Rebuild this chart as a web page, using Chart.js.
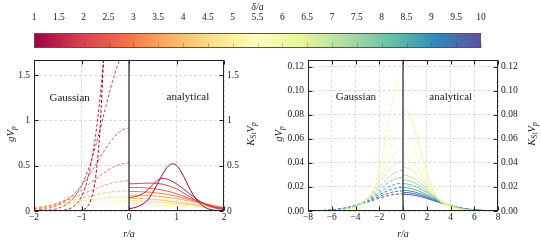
<!DOCTYPE html>
<html>
<head>
<meta charset="utf-8">
<script src="https://cdn.jsdelivr.net/npm/chart.js@4"></script>
<style>
  body { margin: 0; width: 541px; height: 244px; background: #fff; position: relative; overflow: hidden; }
  canvas { position: absolute; }
  .yt { position: absolute; transform: translate(-50%, -50%) rotate(-90deg); font: italic 10.5px "Liberation Serif", serif; color: #1a1a1a; white-space: nowrap; }
  .yt sub { font-size: 7.5px; vertical-align: -2px; }
  .yt .up { font-style: normal; }
</style>
</head>
<body>
<canvas id="cbar" width="541" height="50" style="left:0;top:0"></canvas>
<canvas id="left" width="270" height="194" style="left:0;top:50px"></canvas>
<canvas id="right" width="271" height="194" style="left:270px;top:50px"></canvas>
<div class="yt" style="left:11px;top:134px"><i>g</i><i>V</i><sub>p</sub></div>
<div class="yt" style="left:251px;top:134px"><i>K</i><sub class="up">St</sub><i>V</i><sub>p</sub></div>
<div class="yt" style="left:279px;top:134px"><i>g</i><i>V</i><sub>p</sub></div>
<div class="yt" style="left:532px;top:134px"><i>K</i><sub class="up">St</sub><i>V</i><sub>p</sub></div>
<script>
// delta/a of each curve
const DELTA_LEFT = [1, 1.5, 2, 2.5, 3, 3.5, 4, 4.5, 5, 5.5];
const DELTA_RIGHT = [5, 5.5, 6, 6.5, 7, 7.5, 8, 8.5, 9, 9.5, 10];

// |r|/a sample points (Gaussian half is drawn at -r)
const R_LEFT = [0, 0.1, 0.2, 0.3, 0.4, 0.5, 0.6, 0.7, 0.8, 0.9, 1, 1.1, 1.2, 1.3, 1.4, 1.5, 1.6, 1.7, 1.8, 1.9, 2];
const R_RIGHT = [0, 0.5, 1, 1.5, 2, 2.5, 3, 3.5, 4, 5, 6, 7, 8];

// g V_p, one row per delta, at R_LEFT
const GAUSS_LEFT = [
  [14.3, 13.3, 10.6, 7.35, 4.38, 2.25, 0.997, 0.382, 0.126, 0.0358, 0.0088, 0.0019, 0.0003, 0, 0, 0, 0, 0, 0, 0, 0],
  [4.24, 4.10, 3.72, 3.15, 2.50, 1.86, 1.30, 0.846, 0.517, 0.296, 0.158, 0.0794, 0.0373, 0.0164, 0.0067, 0.0026, 0.0009, 0.0003, 0.0001, 0, 0],
  [1.788, 1.755, 1.660, 1.513, 1.330, 1.126, 0.919, 0.722, 0.547, 0.400, 0.281, 0.191, 0.125, 0.0785, 0.0477, 0.0279, 0.0157, 0.0085, 0.0045, 0.0023, 0.0011],
  [0.915, 0.904, 0.873, 0.823, 0.757, 0.681, 0.598, 0.513, 0.429, 0.351, 0.280, 0.219, 0.167, 0.124, 0.0901, 0.0638, 0.0443, 0.0299, 0.0198, 0.0128, 0.0081],
  [0.530, 0.525, 0.513, 0.492, 0.464, 0.431, 0.394, 0.354, 0.313, 0.272, 0.233, 0.196, 0.162, 0.132, 0.106, 0.0834, 0.0646, 0.0493, 0.0369, 0.0273, 0.0198],
  [0.334, 0.332, 0.326, 0.316, 0.303, 0.287, 0.268, 0.248, 0.227, 0.205, 0.182, 0.161, 0.140, 0.120, 0.102, 0.0857, 0.0711, 0.0582, 0.0472, 0.0377, 0.0298],
  [0.223, 0.222, 0.219, 0.214, 0.208, 0.199, 0.189, 0.178, 0.166, 0.154, 0.141, 0.128, 0.115, 0.102, 0.0903, 0.0790, 0.0684, 0.0587, 0.0500, 0.0421, 0.0352],
  [0.157, 0.156, 0.155, 0.152, 0.148, 0.143, 0.138, 0.131, 0.124, 0.117, 0.109, 0.101, 0.0927, 0.0846, 0.0767, 0.0690, 0.0616, 0.0546, 0.0481, 0.0420, 0.0364],
  [0.114, 0.114, 0.113, 0.111, 0.109, 0.106, 0.103, 0.099, 0.0947, 0.0900, 0.0851, 0.0800, 0.0747, 0.0694, 0.0641, 0.0588, 0.0536, 0.0486, 0.0439, 0.0393, 0.0350],
  [0.0859, 0.0857, 0.0851, 0.0840, 0.0826, 0.0808, 0.0787, 0.0762, 0.0735, 0.0705, 0.0673, 0.0639, 0.0604, 0.0568, 0.0532, 0.0496, 0.0459, 0.0424, 0.0389, 0.0355, 0.0323],
];

// K_St V_p, one row per delta, at R_LEFT
const ANALYTIC_LEFT = [
  [0.025, 0.035, 0.052, 0.080, 0.125, 0.205, 0.300, 0.400, 0.480, 0.520, 0.505, 0.430, 0.330, 0.225, 0.140, 0.080, 0.040, 0.018, 0.008, 0.006, 0.010],
  [0.150, 0.155, 0.170, 0.195, 0.235, 0.290, 0.340, 0.360, 0.352, 0.330, 0.300, 0.262, 0.222, 0.180, 0.140, 0.105, 0.075, 0.052, 0.035, 0.024, 0.017],
  [0.300, 0.301, 0.303, 0.306, 0.308, 0.308, 0.304, 0.296, 0.283, 0.265, 0.245, 0.215, 0.183, 0.150, 0.120, 0.095, 0.074, 0.057, 0.044, 0.034, 0.027],
  [0.260, 0.260, 0.259, 0.257, 0.253, 0.248, 0.241, 0.232, 0.220, 0.206, 0.190, 0.172, 0.153, 0.134, 0.115, 0.097, 0.081, 0.066, 0.053, 0.042, 0.033],
  [0.215, 0.215, 0.214, 0.212, 0.209, 0.205, 0.199, 0.192, 0.184, 0.174, 0.163, 0.150, 0.136, 0.121, 0.106, 0.092, 0.079, 0.067, 0.056, 0.046, 0.038],
  [0.175, 0.175, 0.174, 0.173, 0.170, 0.167, 0.163, 0.158, 0.152, 0.145, 0.137, 0.128, 0.118, 0.108, 0.097, 0.086, 0.076, 0.066, 0.056, 0.047, 0.039],
  [0.140, 0.1395, 0.138, 0.136, 0.133, 0.129, 0.124, 0.119, 0.113, 0.107, 0.0998, 0.0929, 0.0859, 0.0790, 0.0721, 0.0654, 0.0589, 0.0526, 0.0468, 0.0412, 0.0361],
  [0.113, 0.113, 0.112, 0.110, 0.108, 0.105, 0.102, 0.0978, 0.0936, 0.0891, 0.0843, 0.0792, 0.0740, 0.0688, 0.0636, 0.0584, 0.0533, 0.0484, 0.0437, 0.0392, 0.0349],
  [0.0860, 0.0858, 0.0852, 0.0841, 0.0827, 0.0809, 0.0788, 0.0763, 0.0735, 0.0706, 0.0673, 0.0640, 0.0605, 0.0569, 0.0533, 0.0496, 0.0460, 0.0424, 0.0389, 0.0356, 0.0323],
  [0.0610, 0.0609, 0.0605, 0.0599, 0.0591, 0.0581, 0.0569, 0.0555, 0.0539, 0.0521, 0.0502, 0.0482, 0.0461, 0.0439, 0.0417, 0.0394, 0.0371, 0.0348, 0.0325, 0.0302, 0.0280],
];

// g V_p at R_RIGHT
const GAUSS_RIGHT = [
  [0.1144, 0.1062, 0.0851, 0.0588, 0.0350, 0.0180, 0.0080, 0.0031, 0.0010, 0.0001, 0, 0, 0],
  [0.0859, 0.0808, 0.0673, 0.0496, 0.0323, 0.0186, 0.0095, 0.0043, 0.0017, 0.0002, 0, 0, 0],
  [0.0662, 0.0629, 0.0539, 0.0417, 0.0291, 0.0183, 0.0104, 0.0053, 0.0025, 0.0004, 0, 0, 0],
  [0.0521, 0.0499, 0.0437, 0.0351, 0.0259, 0.0174, 0.0108, 0.0061, 0.0032, 0.0007, 0.0001, 0, 0],
  [0.0417, 0.0402, 0.0359, 0.0297, 0.0228, 0.0162, 0.0107, 0.0066, 0.0037, 0.0010, 0.0002, 0, 0],
  [0.0339, 0.0328, 0.0297, 0.0252, 0.0200, 0.0149, 0.0104, 0.0068, 0.0041, 0.0013, 0.0003, 0.0001, 0],
  [0.0279, 0.0271, 0.0249, 0.0215, 0.0176, 0.0135, 0.0099, 0.0068, 0.0044, 0.0016, 0.0004, 0.0001, 0],
  [0.0233, 0.0227, 0.0210, 0.0185, 0.0155, 0.0123, 0.0093, 0.0066, 0.0045, 0.0018, 0.0006, 0.0002, 0],
  [0.0196, 0.0192, 0.0179, 0.0160, 0.0136, 0.0111, 0.0086, 0.0064, 0.0045, 0.0020, 0.0007, 0.0002, 0.0001],
  [0.0167, 0.0164, 0.0154, 0.0139, 0.0120, 0.0100, 0.0080, 0.0061, 0.0045, 0.0022, 0.0009, 0.0003, 0.0001],
  [0.0143, 0.0140, 0.0133, 0.0121, 0.0106, 0.0090, 0.0074, 0.0058, 0.0044, 0.0023, 0.0010, 0.0004, 0.0001],
];

// K_St V_p at R_RIGHT
const ANALYTIC_RIGHT = [
  [0.0860, 0.0809, 0.0673, 0.0496, 0.0323, 0.0187, 0.0095, 0.0043, 0.0017, 0.0002, 0, 0, 0],
  [0.0610, 0.0581, 0.0502, 0.0394, 0.0280, 0.0181, 0.0106, 0.0056, 0.0027, 0.0005, 0.0001, 0, 0],
  [0.0450, 0.0432, 0.0384, 0.0315, 0.0238, 0.0167, 0.0108, 0.0064, 0.0035, 0.0008, 0.0001, 0, 0],
  [0.0365, 0.0353, 0.0318, 0.0267, 0.0210, 0.0154, 0.0105, 0.0067, 0.0040, 0.0012, 0.0003, 0, 0],
  [0.0300, 0.0291, 0.0266, 0.0228, 0.0185, 0.0141, 0.0101, 0.0068, 0.0043, 0.0014, 0.0004, 0.0001, 0],
  [0.0260, 0.0253, 0.0233, 0.0203, 0.0167, 0.0131, 0.0096, 0.0067, 0.0045, 0.0017, 0.0005, 0.0001, 0],
  [0.0228, 0.0222, 0.0206, 0.0182, 0.0152, 0.0121, 0.0092, 0.0066, 0.0045, 0.0018, 0.0006, 0.0002, 0],
  [0.0195, 0.0191, 0.0178, 0.0159, 0.0136, 0.0110, 0.0086, 0.0064, 0.0045, 0.0020, 0.0007, 0.0002, 0.0001],
  [0.0172, 0.0168, 0.0158, 0.0143, 0.0123, 0.0102, 0.0081, 0.0062, 0.0045, 0.0021, 0.0008, 0.0003, 0.0001],
  [0.0155, 0.0152, 0.0143, 0.0130, 0.0113, 0.0095, 0.0077, 0.0060, 0.0044, 0.0022, 0.0009, 0.0003, 0.0001],
  [0.0140, 0.0137, 0.0130, 0.0119, 0.0105, 0.0089, 0.0073, 0.0057, 0.0044, 0.0023, 0.0010, 0.0004, 0.0001],
];

// ticks
const CBAR_TICKS = [1, 1.5, 2, 2.5, 3, 3.5, 4, 4.5, 5, 5.5, 6, 6.5, 7, 7.5, 8, 8.5, 9, 9.5, 10];
const CBAR_LABELS = ["1", "1.5", "2", "2.5", "3", "3.5", "4", "4.5", "5", "5.5", "6", "6.5", "7", "7.5", "8", "8.5", "9", "9.5", "10"];
const LEFT_X_TICKS = [-2, -1, 0, 1, 2];
const LEFT_X_LABELS = ["\u22122", "\u22121", "0", "1", "2"];
const LEFT_Y_TICKS = [0, 0.5, 1, 1.5];
const LEFT_Y_LABELS = ["0", "0.5", "1", "1.5"];
const RIGHT_X_TICKS = [-8, -6, -4, -2, 0, 2, 4, 6, 8];
const RIGHT_X_LABELS = ["\u22128", "\u22126", "\u22124", "\u22122", "0", "2", "4", "6", "8"];
const RIGHT_Y_TICKS = [0, 0.02, 0.04, 0.06, 0.08, 0.1, 0.12];
const RIGHT_Y_LABELS = ["0.00", "0.02", "0.04", "0.06", "0.08", "0.10", "0.12"];

const SPECTRAL = ["#9e0142", "#d53e4f", "#f46d43", "#fdae61", "#fee08b", "#ffffbf", "#e6f598", "#abdda4", "#66c2a5", "#3288bd", "#5e4fa2"];
const FONT = '"Liberation Serif", serif';
const INK = "#1a1a1a";

Chart.defaults.font.family = FONT;
Chart.defaults.color = INK;

function hexRgb(hex) {
  const n = parseInt(hex.slice(1), 16);
  return [(n >> 16) & 255, (n >> 8) & 255, n & 255];
}

function spectral(t) {
  const p = Math.max(0, Math.min(1, t)) * (SPECTRAL.length - 1);
  const i = Math.min(SPECTRAL.length - 2, Math.floor(p));
  const f = p - i;
  const a = hexRgb(SPECTRAL[i]);
  const b = hexRgb(SPECTRAL[i + 1]);
  const c = a.map((v, k) => Math.round(v + (b[k] - v) * f));
  return `rgb(${c[0]}, ${c[1]}, ${c[2]})`;
}

function deltaColor(d) {
  return spectral((d - 1) / 9);
}

function curveDatasets(deltas, rs, gauss, analytic) {
  const sets = [];
  deltas.forEach((d, k) => {
    const color = deltaColor(d);
    const base = {
      borderColor: color,
      borderWidth: 1,
      pointRadius: 0,
      fill: false,
      cubicInterpolationMode: "monotone",
    };
    sets.push({
      ...base,
      label: `Gaussian ${d}`,
      borderDash: [3, 2],
      data: rs.map((r, i) => ({ x: -r, y: gauss[k][i] })).reverse(),
    });
    sets.push({
      ...base,
      label: `analytical ${d}`,
      data: rs.map((r, i) => ({ x: r, y: analytic[k][i] })),
    });
  });
  return sets;
}

function fixedTicks(values) {
  return (scale) => {
    scale.ticks = values.map((value) => ({ value }));
  };
}

// frame, inward tick marks, x = 0 divider, panel captions
const panelDeco = {
  id: "panelDeco",
  afterDatasetsDraw(chart, _args, opts) {
    const { ctx, chartArea: a, scales } = chart;
    const L = Math.round(a.left) + 0.5;
    const R = Math.round(a.right) - 0.5;
    const T = Math.round(a.top) + 0.5;
    const B = Math.round(a.bottom) - 0.5;
    ctx.save();
    ctx.strokeStyle = "#222";
    ctx.lineWidth = 1;
    ctx.beginPath();
    scales.x.ticks.forEach((t) => {
      const px = Math.round(scales.x.getPixelForValue(t.value)) + 0.5;
      ctx.moveTo(px, B); ctx.lineTo(px, B - 4);
      ctx.moveTo(px, T); ctx.lineTo(px, T + 4);
    });
    scales.y.ticks.forEach((t) => {
      const py = Math.round(scales.y.getPixelForValue(t.value)) + 0.5;
      ctx.moveTo(L, py); ctx.lineTo(L + 4, py);
      ctx.moveTo(R, py); ctx.lineTo(R - 4, py);
    });
    ctx.stroke();

    const zx = scales.x.getPixelForValue(0);
    ctx.strokeStyle = "#333";
    ctx.lineWidth = 1.3;
    ctx.beginPath();
    ctx.moveTo(zx, a.top); ctx.lineTo(zx, a.bottom);
    ctx.stroke();

    ctx.lineWidth = 1;
    ctx.strokeStyle = "#222";
    ctx.strokeRect(L, T, R - L, B - T);

    ctx.fillStyle = INK;
    ctx.font = `11px ${FONT}`;
    ctx.textAlign = "center";
    ctx.textBaseline = "middle";
    (opts.captions || []).forEach((c) => {
      ctx.fillText(c.text, scales.x.getPixelForValue(c.x), scales.y.getPixelForValue(c.y));
    });
    ctx.restore();
  },
};

function makePanel(id, cfg) {
  const tickFont = { size: 9.5 };
  const grid = { color: "#d2d2d2", lineWidth: 0.8, drawTicks: false };
  new Chart(document.getElementById(id), {
    type: "line",
    data: { datasets: curveDatasets(cfg.deltas, cfg.rs, cfg.gauss, cfg.analytic) },
    options: {
      responsive: false,
      animation: false,
      devicePixelRatio: 1,
      layout: { padding: { top: 5, left: 0, right: 0, bottom: 0 } },
      plugins: {
        legend: { display: false },
        tooltip: { enabled: false },
        panelDeco: { captions: cfg.captions },
      },
      scales: {
        x: {
          type: "linear",
          min: cfg.xMin,
          max: cfg.xMax,
          afterBuildTicks: fixedTicks(cfg.xTicks),
          afterFit: (s) => { s.height = 33; },
          ticks: { font: tickFont, padding: 1, maxRotation: 0, autoSkip: false, callback: (_v, i) => cfg.xLabels[i] },
          grid,
          border: { display: false, dash: [3, 2] },
          title: { display: true, text: "r/a", font: { size: 10, style: "italic" }, padding: { top: 0, bottom: 4 } },
        },
        y: {
          position: "left",
          min: 0,
          max: cfg.yMax,
          afterBuildTicks: fixedTicks(cfg.yTicks),
          afterFit: (s) => { s.width = cfg.leftW; },
          ticks: { font: tickFont, padding: 4, autoSkip: false, callback: (_v, i) => cfg.yLabels[i] },
          grid,
          border: { display: false, dash: [3, 2] },
        },
        y2: {
          position: "right",
          min: 0,
          max: cfg.yMax,
          afterBuildTicks: fixedTicks(cfg.yTicks),
          afterFit: (s) => { s.width = cfg.rightW; },
          ticks: { font: tickFont, padding: 3, autoSkip: false, callback: (_v, i) => cfg.yLabels[i] },
          grid: { display: false, drawTicks: false },
          border: { display: false },
        },
      },
    },
    plugins: [panelDeco],
  });
}

const colorbarDeco = {
  id: "colorbarDeco",
  beforeDatasetsDraw(chart) {
    const { ctx, chartArea: a, scales } = chart;
    const x0 = scales.x.getPixelForValue(1);
    const x1 = scales.x.getPixelForValue(10);
    const g = ctx.createLinearGradient(x0, 0, x1, 0);
    SPECTRAL.forEach((c, i) => g.addColorStop(i / (SPECTRAL.length - 1), c));
    ctx.save();
    ctx.fillStyle = g;
    ctx.fillRect(a.left, a.top, a.right - a.left, a.bottom - a.top);
    ctx.strokeStyle = "rgba(0,0,0,0.22)";
    ctx.lineWidth = 1;
    ctx.beginPath();
    scales.x.ticks.forEach((t) => {
      const px = Math.round(scales.x.getPixelForValue(t.value)) + 0.5;
      ctx.moveTo(px, a.bottom); ctx.lineTo(px, a.bottom - 5);
    });
    ctx.stroke();
    ctx.strokeStyle = "#555";
    ctx.strokeRect(Math.round(a.left) + 0.5, Math.round(a.top) + 0.5, Math.round(a.right - a.left) - 1, Math.round(a.bottom - a.top) - 1);
    ctx.restore();
  },
};

new Chart(document.getElementById("cbar"), {
  type: "scatter",
  data: { datasets: [{ data: [], pointRadius: 0 }] },
  options: {
    responsive: false,
    animation: false,
    devicePixelRatio: 1,
    layout: { padding: { left: 34, right: 60, top: 0, bottom: 2 } },
    plugins: { legend: { display: false }, tooltip: { enabled: false } },
    scales: {
      x: {
        type: "linear",
        position: "top",
        min: 1,
        max: 10,
        afterBuildTicks: fixedTicks(CBAR_TICKS),
        afterFit: (s) => { s.height = 33; },
        ticks: { font: { size: 9.5 }, padding: 10, maxRotation: 0, autoSkip: false, callback: (_v, i) => CBAR_LABELS[i] },
        grid: { display: false, drawTicks: false },
        border: { display: false },
        title: { display: true, text: "\u03b4/a", font: { size: 10, style: "italic" }, padding: { top: 1, bottom: 0 } },
      },
      y: { display: false, min: 0, max: 1 },
    },
  },
  plugins: [colorbarDeco],
});

makePanel("left", {
  deltas: DELTA_LEFT, rs: R_LEFT, gauss: GAUSS_LEFT, analytic: ANALYTIC_LEFT,
  xMin: -2, xMax: 2, yMax: 1.67,
  xTicks: LEFT_X_TICKS, xLabels: LEFT_X_LABELS, yTicks: LEFT_Y_TICKS, yLabels: LEFT_Y_LABELS,
  leftW: 34, rightW: 46,
  captions: [{ text: "Gaussian", x: -1.25, y: 1.25 }, { text: "analytical", x: 1.24, y: 1.26 }],
});

makePanel("right", {
  deltas: DELTA_RIGHT, rs: R_RIGHT, gauss: GAUSS_RIGHT, analytic: ANALYTIC_RIGHT,
  xMin: -8, xMax: 8, yMax: 0.126,
  xTicks: RIGHT_X_TICKS, xLabels: RIGHT_X_LABELS, yTicks: RIGHT_Y_TICKS, yLabels: RIGHT_Y_LABELS,
  leftW: 38, rightW: 43,
  captions: [{ text: "Gaussian", x: -3.97, y: 0.0948 }, { text: "analytical", x: 4.02, y: 0.0952 }],
});
</script>
</body>
</html>
